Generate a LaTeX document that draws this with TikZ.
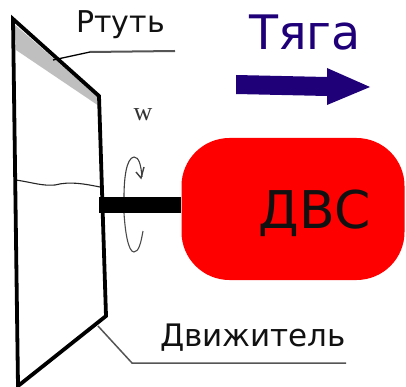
\documentclass[tikz,border=0pt]{standalone}
\usepackage{fontspec}
\setmainfont{DejaVu Sans}
\newfontfamily\serifw{Liberation Serif}
\definecolor{thrust}{HTML}{1F0078}
\definecolor{leader}{HTML}{555555}
\definecolor{lbl}{HTML}{111111}
\tikzset{
  wall/.style={draw=black,line width=3.8pt,line join=miter},
  leaderline/.style={draw=leader,line width=2pt},
  lab/.style={inner sep=0pt,anchor=center},
}
\begin{document}
\begin{tikzpicture}[x=1pt,y=-1pt]
\useasboundingbox (0,0) rectangle (406,387);
\fill[white] (0,0) rectangle (406,387);
% mercury
\fill[black!25] (14,24) -- (99,98) -- (99,106) -- (16,50) -- cycle;
% level line
\draw[line width=1.1pt,black!85] (16,180) .. controls (35,183) and (42,186) .. (55,185) .. controls (70,181) and (85,184) .. (100,187);
% leaders
\coordinate (lr0) at (53,60); \coordinate (lr1) at (90,52); \coordinate (lr2) at (175,51);
\draw[black,line width=1.3pt] (lr0) -- (lr1);
\draw[leaderline] (lr1) -- (lr2);
\coordinate (ld0) at (98,326); \coordinate (ld1) at (132,363); \coordinate (ld2) at (346,363);
\draw[leaderline,line width=1.5pt] (ld0) -- (ld1) -- (ld2);
% body
\draw[wall] (13,19) -- (99,96) -- (106,316) -- (18,386) -- cycle;
% engine and shaft
\node[draw=none,fill=red,rounded corners=48pt,minimum width=223pt,minimum height=142pt,inner sep=0pt] (dvs) at (293,209) {};
\node[fill=black,minimum width=82pt,minimum height=16pt,inner sep=0pt,anchor=east,yshift=4pt] (shaft) at (dvs.west) {};
\node[lab,text=lbl,font=\fontsize{52}{52}\selectfont] (dvst) at (315,213) {ДВС};
% rotation
\draw[black!75,line width=1.1pt] (124,197) .. controls (124,180) and (126,158) .. (134,157) .. controls (139,157) and (141,165) .. (142,177);
\draw[black!75,line width=1.4pt] (136,172) -- (141,178) -- (144,167);
\draw[black!70,line width=1.1pt] (124,213) .. controls (125,230) and (128,252) .. (134,252) .. controls (139,252) and (141,242) .. (143,231);
% labels
\node[lab,text=lbl,font=\fontsize{30}{30}\selectfont] (rt) at (120.5,25) {Ртуть};
\node[lab,text=lbl,font=\fontsize{31}{31}\selectfont] (dv) at (253,338) {Движитель};
\node[lab,text=thrust,font=\fontsize{47.5}{47.5}\selectfont] (ty) at (305,33) {Тяга};
\node[lab,text=black!80,font=\serifw\fontsize{26}{26}\selectfont] (w) at (143,115) {w};
% thrust arrow
\fill[thrust] (236,75) -- (327,77) -- (327,68) -- (370,87) -- (327,105) -- (327,96) -- (236,94) -- cycle;
\end{tikzpicture}
\end{document}
